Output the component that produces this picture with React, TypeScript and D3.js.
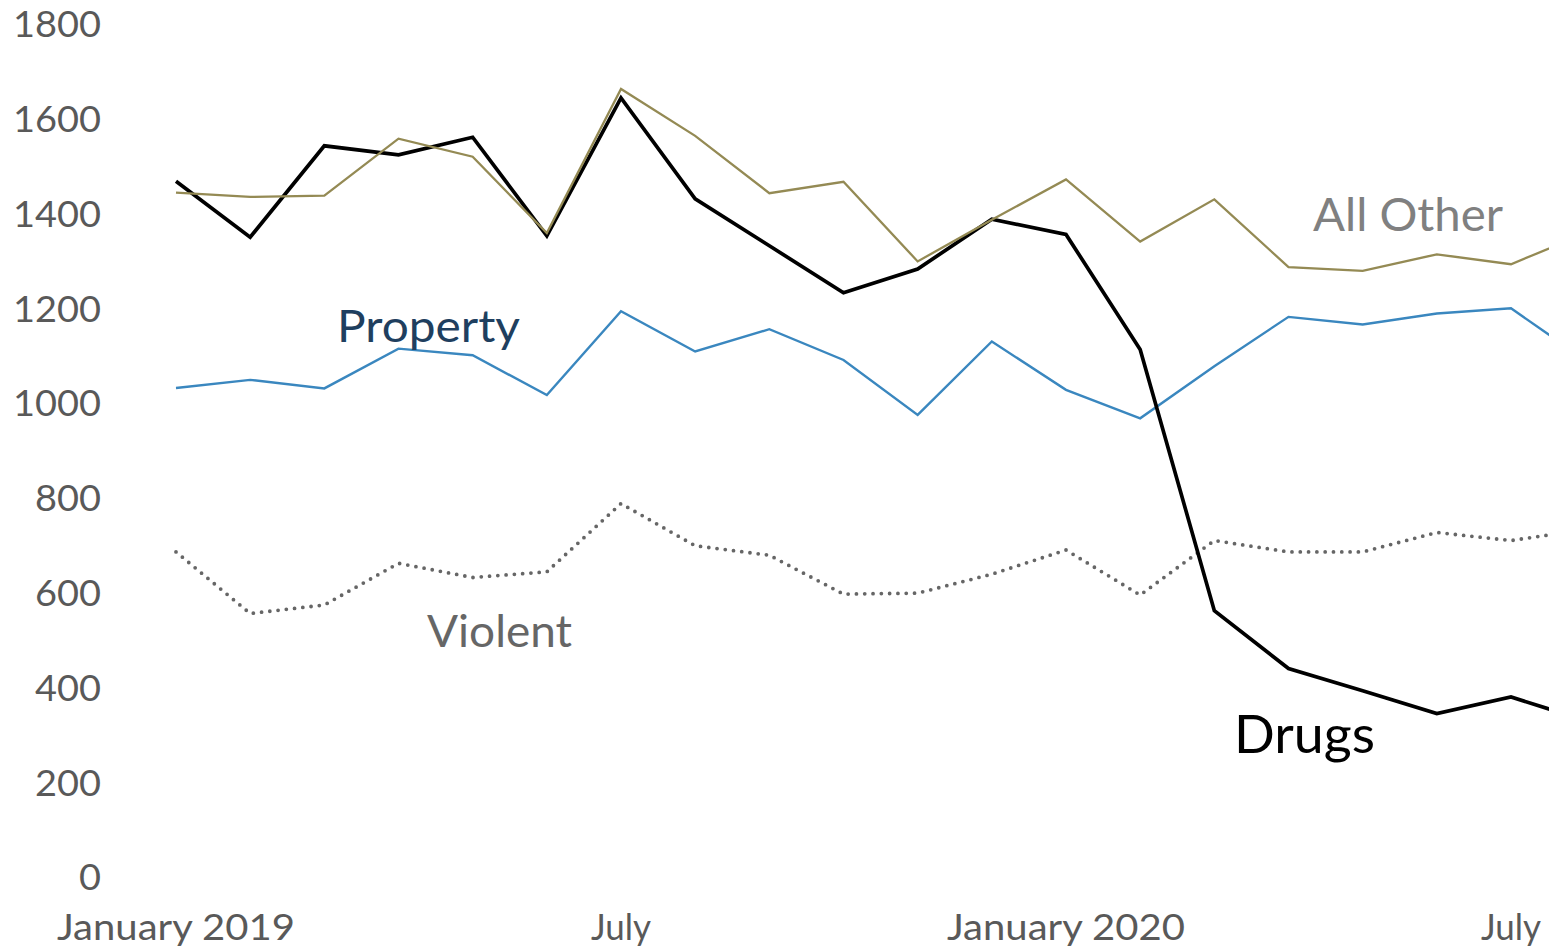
import React from "react";
import * as d3 from "d3";

const months = [
  "2019-01", "2019-02", "2019-03", "2019-04", "2019-05", "2019-06", "2019-07",
  "2019-08", "2019-09", "2019-10", "2019-11", "2019-12", "2020-01", "2020-02",
  "2020-03", "2020-04", "2020-05", "2020-06", "2020-07", "2020-08",
];

const allOther = [1444, 1435, 1438, 1558, 1520, 1359, 1663, 1564, 1443, 1467, 1299, 1387, 1472, 1341, 1430, 1287, 1279, 1314, 1293, 1358];
const drugs = [1468, 1350, 1543, 1524, 1561, 1353, 1644, 1431, 1332, 1233, 1283, 1388, 1356, 1113, 562, 440, 393, 345, 380, 330];
const property = [1032, 1049, 1031, 1115, 1101, 1017, 1194, 1109, 1156, 1091, 975, 1130, 1028, 968, 1078, 1182, 1166, 1189, 1200, 1091];
const violent = [686, 556, 574, 662, 632, 644, 788, 699, 679, 597, 599, 639, 690, 595, 710, 686, 686, 727, 710, 733];

const yTicks = [0, 200, 400, 600, 800, 1000, 1200, 1400, 1600, 1800];
const xTickLabels = [
  { idx: 0, label: "January 2019" },
  { idx: 6, label: "July" },
  { idx: 12, label: "January 2020" },
  { idx: 18, label: "July" },
];

const W = 1549;
const H = 949;
const FONT = "Lato, 'Open Sans', sans-serif";

export default function App() {
  const x = d3.scaleLinear().domain([0, 18]).range([176, 1511]);
  const y = d3.scaleLinear().domain([0, 1800]).range([877, 24]);

  const line = d3
    .line<number>()
    .x((_, i) => x(i))
    .y((d) => y(d));

  const series = [
    { name: "Violent", data: violent, color: "#666666", width: 3.8, dash: "0 8.3", cap: "round" },
    { name: "Property", data: property, color: "#3A87BF", width: 2.4, dash: undefined, cap: "butt" },
    { name: "Drugs", data: drugs, color: "#000000", width: 3.7, dash: undefined, cap: "butt" },
    { name: "All Other", data: allOther, color: "#948A54", width: 2.3, dash: undefined, cap: "butt" },
  ];

  const labels = [
    { text: "All Other", x0: 1313, x1: 1503, base: 231, size: 47, color: "#808080" },
    { text: "Property", x0: 337, x1: 520, base: 342, size: 45, color: "#1F3F5F" },
    { text: "Violent", x0: 427, x1: 572, base: 647, size: 45, color: "#666666" },
    { text: "Drugs", x0: 1234, x1: 1375, base: 753, size: 52, color: "#000000" },
  ];

  return (
    <svg
      width={W}
      height={H}
      viewBox={`0 0 ${W} ${H}`}
      style={{ position: "absolute", left: 0, top: 0, background: "#ffffff" }}
    >
      <rect x={0} y={0} width={W} height={H} fill="#ffffff" />
      <g fontFamily={FONT} fill="#595959">
        {yTicks.map((t) => (
          <text
            key={t}
            x={101}
            y={y(t)}
            dy="0.36em"
            textAnchor="end"
            fontSize={37}
            textLength={String(t).length * 22}
            lengthAdjust="spacingAndGlyphs"
          >
            {t}
          </text>
        ))}
        {xTickLabels.map((t) => (
          <text
            key={t.idx}
            x={x(t.idx)}
            y={940}
            textAnchor="middle"
            fontSize={37}
            textLength={t.label.length > 4 ? 238 : 60}
            lengthAdjust="spacingAndGlyphs"
          >
            {t.label}
          </text>
        ))}
      </g>
      <g fill="none">
        {series.map((s) => (
          <path
            key={s.name}
            d={line(s.data) || ""}
            stroke={s.color}
            strokeWidth={s.width}
            strokeDasharray={s.dash}
            strokeLinecap={s.cap as any}
            strokeLinejoin="miter"
          />
        ))}
      </g>
      <g fontFamily={FONT}>
        {labels.map((l) => (
          <text
            key={l.text}
            x={l.x0}
            y={l.base}
            fontSize={l.size}
            fill={l.color}
            textLength={l.x1 - l.x0}
            lengthAdjust="spacingAndGlyphs"
          >
            {l.text}
          </text>
        ))}
      </g>
    </svg>
  );
}
